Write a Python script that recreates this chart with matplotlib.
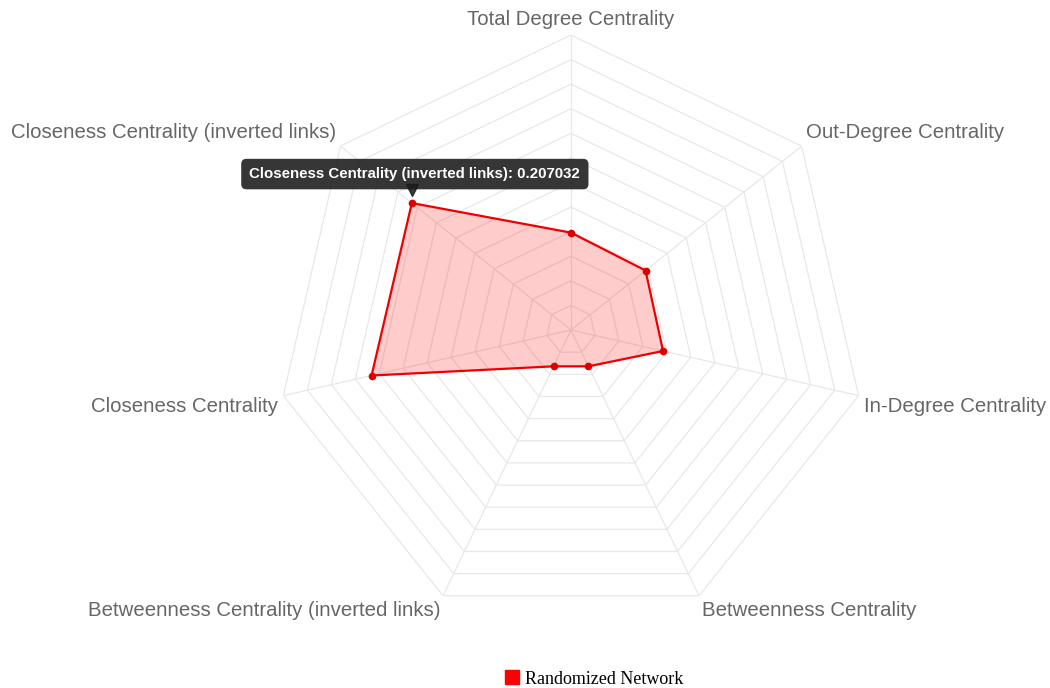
import numpy as np
import matplotlib.pyplot as plt
from matplotlib.lines import Line2D
from matplotlib import transforms

axis_labels = ["Total Degree Centrality", "Out-Degree Centrality", "In-Degree Centrality",
               "Betweenness Centrality", "Betweenness Centrality (inverted links)",
               "Closeness Centrality", "Closeness Centrality (inverted links)"]
randomized = [0.099, 0.097, 0.096, 0.041, 0.041, 0.208, 0.207032]
series_name = "Randomized Network"
r_max = 0.3
r_step = 0.025
tip_index = 6

fig = plt.figure(figsize=(10.5, 6.88), dpi=100)
cx, cy, rad = 571 / 1050, 1 - 330 / 688, 295
ax = fig.add_axes([cx - rad / 1050, cy - rad / 688, 2 * rad / 1050, 2 * rad / 688],
                  projection="polar")
ax.set_theta_zero_location("N")
ax.set_theta_direction(-1)
ax.set_ylim(0, r_max)
ax.axis("off")

n = len(axis_labels)
theta = np.arange(n) * 2 * np.pi / n
closed = np.append(theta, theta[0])

grid_col = "#e8e8e8"
for r in np.arange(r_step, r_max + r_step / 2, r_step):
    ax.plot(closed, [r] * (n + 1), color=grid_col, lw=0.9, zorder=1)
for t in theta:
    ax.plot([t, t], [0, r_max], color=grid_col, lw=0.9, zorder=1)

vals = np.append(randomized, randomized[0])
ax.fill(closed, vals, color=(1, 0, 0, 0.2), lw=0, zorder=2)
ax.plot(closed, vals, color="#ee0000", lw=1.6, zorder=3)
ax.plot(theta, randomized, "o", color="#dd0000", ms=4.5, zorder=4)

# axis labels around the outside
for t, lab in zip(theta, axis_labels):
    sx, sy = np.sin(t), np.cos(t)
    ha = "center" if abs(sx) < 0.05 else ("left" if sx > 0 else "right")
    va = "bottom" if sy > 0 else "top"
    ax.annotate(lab, xy=(t, r_max), xytext=(6 * sx, 6 * sy), textcoords="offset pixels",
                ha=ha, va=va, fontsize=14.7, color="#666666", family="Liberation Sans",
                annotation_clip=False)

# tooltip on the hovered point
tt, tv = theta[tip_index], randomized[tip_index]
caret = transforms.offset_copy(ax.transData, fig=fig, x=0, y=13, units="dots")
ax.plot(tt, tv, marker="v", ms=9, color="#222222", alpha=0.9, transform=caret,
        clip_on=False, zorder=6)
ax.annotate(f"{axis_labels[tip_index]}: {tv}", xy=(tt, tv), xytext=(3, 29),
            textcoords="offset pixels", ha="center", va="center", fontsize=10.8,
            fontweight="bold", color="white", family="Liberation Sans",
            bbox=dict(boxstyle="round,pad=0.55,rounding_size=0.35", fc=(0.1, 0.1, 0.1, 0.88),
                      ec="none"), annotation_clip=False, zorder=7)

handle = Line2D([], [], marker="s", ls="none", color="#ff0000", ms=9.5)
fig.legend([handle], [series_name], loc="center", bbox_to_anchor=(594 / 1050, 1 - 679 / 688),
           frameon=False, handletextpad=0.3, handlelength=0.8,
           prop={"family": "Liberation Serif", "size": 13})

fig.savefig("out.png", dpi=100, facecolor="white")
